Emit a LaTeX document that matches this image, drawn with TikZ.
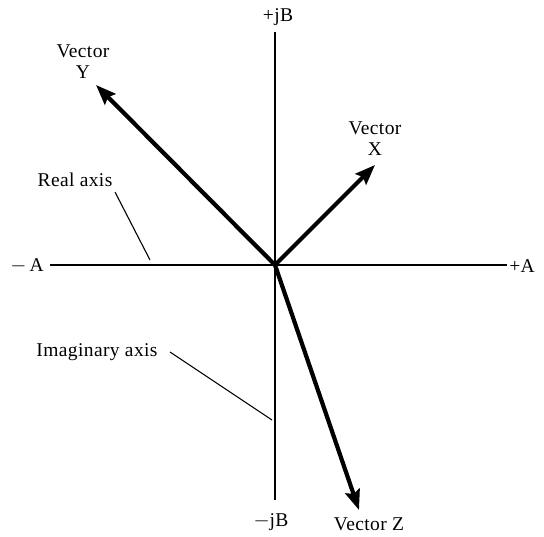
\documentclass[tikz,border=0pt]{standalone}
\usepackage{fontspec}
\setmainfont{Liberation Serif}[LetterSpace=2]
\usetikzlibrary{arrows.meta}
\begin{document}
\begin{tikzpicture}[x=1pt,y=-1pt,
  lbl/.style={font=\fontsize{19.5}{21}\selectfont, inner sep=0pt, align=center},
  axisline/.style={line width=1.2pt},
  leader/.style={line width=1.1pt},
  vec/.style={line width=4.2pt, -{Stealth[length=20pt,width=15pt,inset=3pt]}}]
\useasboundingbox (0,0) rectangle (544,536);
\coordinate (O) at (275,265);
\coordinate (axL) at (50,265);
\coordinate (axR) at (507,265);
\coordinate (axT) at (275,32);
\coordinate (axB) at (275,500);
\draw[axisline] (axL) -- (axR);
\draw[axisline] (axT) -- (axB);
\node[lbl] (mA) at (27,266) {$-$\,A};
\node[lbl] (pA) at (522,266) {+A};
\node[lbl] (pjB) at (278,17) {+jB};
\node[lbl] (mjB) at (271,522) {$-$jB};
\coordinate (tipY) at (96,85);
\coordinate (tipX) at (375,165);
\coordinate (tipZ) at (359,510);
\draw[vec] (O) -- (tipY);
\draw[vec] (O) -- (tipX);
\draw[vec] (O) -- (tipZ);
\node[lbl] (vY) at (83,62) {Vector\\Y};
\node[lbl] (vX) at (375,139) {Vector\\X};
\node[lbl] (vZ) at (369,524) {Vector Z};
\node[lbl] (real) at (75,180) {Real axis};
\node[lbl] (imag) at (97,352) {Imaginary axis};
\coordinate (realEnd) at (150,260);
\coordinate (imagEnd) at (272,420);
\draw[leader] (115,192) -- (realEnd);
\draw[leader] (170,352) -- (imagEnd);
\end{tikzpicture}
\end{document}
